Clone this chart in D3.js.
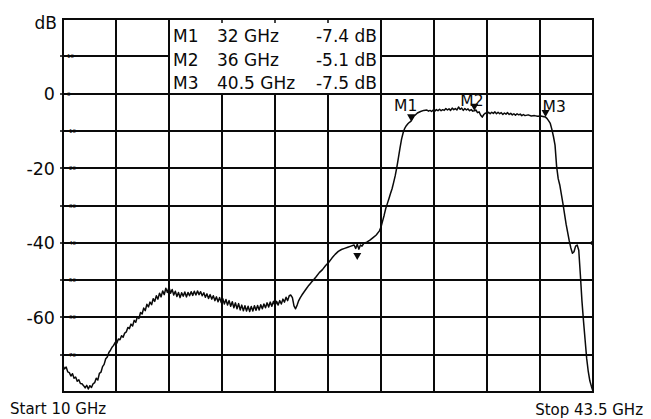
<!DOCTYPE html>
<html><head><meta charset="utf-8">
<script src="https://cdn.jsdelivr.net/npm/d3@7"></script>
<style>
body{margin:0;background:#fff}
svg{display:block}
text{font-family:"DejaVu Sans",Verdana,sans-serif;fill:#0a0a0a}
</style>
</head><body>
<svg id="c" width="651" height="419"></svg>
<script>
// ---------- data ----------
const xGridGHz = [10, 13.35, 16.7, 20.05, 23.4, 26.75, 30.1, 33.45, 36.8, 40.15, 43.5];
const yGridDb = [20, 10, 0, -10, -20, -30, -40, -50, -60, -70, -80];
const yLabelDb = [0, -20, -40, -60];
const yLabelText = ["0", "-20", "-40", "-60"];
const yUnit = "dB";
const innerTickDb = [10, 0, -10, -20, -30, -40, -50, -60, -70];
const innerTickText = ["10", "0", "-10", "-20", "-30", "-40", "-50", "-60", "-70"];

const traceGHz = [
10.0,10.1,10.2,10.3,10.4,10.5,10.6,10.7,10.8,10.9,
11.0,11.1,11.2,11.3,11.4,11.5,11.6,11.7,11.8,11.9,
12.0,12.1,12.2,12.3,12.4,12.5,12.6,12.7,12.8,12.9,
13.0,13.1,13.2,13.3,13.4,13.5,13.6,13.7,13.8,13.9,
14.0,14.1,14.2,14.3,14.4,14.5,14.6,14.7,14.8,14.9,
15.0,15.1,15.2,15.3,15.4,15.5,15.6,15.7,15.8,15.9,
16.0,16.1,16.2,16.3,16.4,16.5,16.6,16.7,16.8,16.9,
17.0,17.1,17.2,17.3,17.4,17.5,17.6,17.7,17.8,17.9,
18.0,18.1,18.2,18.3,18.4,18.5,18.6,18.7,18.8,18.9,
19.0,19.1,19.2,19.3,19.4,19.5,19.6,19.7,19.8,19.9,
20.0,20.1,20.2,20.3,20.4,20.5,20.6,20.7,20.8,20.9,
21.0,21.1,21.2,21.3,21.4,21.5,21.6,21.7,21.8,21.9,
22.0,22.1,22.2,22.3,22.4,22.5,22.6,22.7,22.8,22.9,
23.0,23.1,23.2,23.3,23.4,23.5,23.6,23.7,23.8,23.9,
24.0,24.1,24.2,24.3,24.4,24.5,24.6,24.7,24.8,24.9,
25.0,25.1,25.2,25.3,25.4,25.5,25.6,25.7,25.8,26.0,
26.2,26.4,26.6,26.8,27.0,27.2,27.4,27.6,27.8,28.0,
28.2,28.4,28.5,28.6,28.7,28.8,28.9,29.0,29.2,29.4,
29.6,29.8,30.0,30.1,30.2,30.3,30.4,30.5,30.6,30.7,
30.8,30.9,31.0,31.1,31.2,31.3,31.4,31.5,31.6,31.7,
31.8,31.9,32.0,32.2,32.4,32.6,32.8,33.0,33.1,33.2,
33.3,33.4,33.5,33.6,33.7,33.8,33.9,34.0,34.1,34.2,
34.3,34.4,34.5,34.6,34.7,34.8,34.9,35.0,35.1,35.2,
35.3,35.4,35.5,35.6,35.7,35.8,35.9,36.0,36.1,36.2,
36.3,36.4,36.5,36.6,36.7,36.8,36.9,37.0,37.1,37.2,
37.3,37.4,37.5,37.6,37.7,37.8,37.9,38.0,38.1,38.2,
38.3,38.4,38.5,38.6,38.7,38.8,38.9,39.0,39.1,39.2,
39.4,39.6,39.8,40.0,40.2,40.4,40.5,40.6,40.7,40.8,
40.9,41.0,41.1,41.2,41.3,41.4,41.6,41.8,42.0,42.1,
42.2,42.3,42.4,42.5,42.6,42.7,42.8,42.9,43.0,43.1,
43.2,43.3,43.4,43.5
];
const traceDb = [
-73.0,-73.8,-73.3,-74.6,-74.8,-75.7,-75.1,-76.3,-76.0,-77.1,
-76.7,-77.7,-77.8,-78.3,-78.9,-78.2,-79.2,-78.3,-78.8,-77.8,
-77.5,-76.3,-76.8,-75.0,-74.7,-73.2,-72.6,-71.1,-70.6,-69.4,
-68.8,-68.0,-67.5,-66.7,-66.9,-65.8,-66.0,-64.9,-65.3,-64.2,
-63.9,-62.7,-63.0,-61.8,-62.3,-60.8,-61.3,-59.8,-60.3,-58.7,
-59.1,-57.5,-58.2,-56.5,-57.2,-55.9,-56.6,-55.0,-55.7,-54.2,
-55.1,-53.5,-54.5,-52.9,-53.9,-52.2,-53.3,-51.9,-53.5,-52.5,
-54.0,-53.0,-54.4,-53.3,-54.7,-53.4,-54.3,-53.2,-54.5,-53.3,
-54.2,-53.1,-54.1,-53.0,-54.0,-52.9,-53.9,-53.1,-54.2,-53.4,
-54.6,-53.7,-54.9,-53.9,-55.1,-54.2,-55.5,-54.5,-55.8,-54.7,
-56.0,-55.0,-56.4,-55.2,-56.7,-55.5,-57.0,-55.8,-57.4,-56.1,
-57.7,-56.3,-58.0,-56.7,-58.2,-56.9,-58.3,-57.0,-58.4,-57.1,
-58.3,-56.9,-58.1,-56.8,-58.0,-56.6,-57.7,-56.4,-57.4,-56.1,
-57.2,-55.9,-57.0,-55.7,-56.9,-55.7,-56.7,-55.5,-56.4,-55.1,
-55.9,-54.6,-55.5,-54.2,-54.0,-54.7,-56.9,-57.7,-56.7,-55.5,
-54.7,-54.0,-53.4,-52.8,-52.2,-51.6,-51.1,-50.6,-50.1,-49.1,
-48.0,-47.2,-46.1,-45.2,-44.1,-43.1,-42.3,-41.8,-41.5,-41.2,
-40.9,-40.6,-41.5,-40.4,-41.7,-40.6,-40.9,-40.2,-39.8,-39.3,
-38.6,-37.9,-36.8,-35.8,-34.2,-32.6,-30.8,-29.5,-28.2,-26.8,
-25.5,-23.8,-22.0,-19.8,-17.2,-14.6,-12.2,-10.5,-9.3,-8.6,
-8.1,-7.7,-7.4,-6.0,-5.2,-4.8,-4.5,-4.4,-4.7,-4.5,
-4.8,-4.4,-4.7,-4.3,-4.6,-4.2,-4.6,-4.3,-4.5,-4.0,
-4.4,-4.1,-4.5,-3.9,-4.3,-4.0,-4.4,-3.6,-4.2,-3.9,
-4.5,-4.0,-4.4,-4.1,-4.6,-4.3,-4.7,-4.6,-4.4,-5.1,
-4.9,-5.8,-6.3,-5.6,-5.2,-5.5,-5.0,-5.4,-5.0,-5.3,
-4.9,-5.4,-5.0,-5.4,-5.1,-5.6,-5.2,-5.5,-5.1,-5.6,
-5.3,-5.7,-5.4,-5.8,-5.4,-5.7,-5.5,-5.9,-5.6,-5.9,
-5.7,-6.0,-5.9,-6.1,-6.0,-6.2,-6.3,-6.7,-7.3,-8.0,
-9.6,-11.5,-13.8,-19.5,-22.8,-24.5,-29.5,-35.0,-39.5,-41.4,
-42.8,-42.4,-40.9,-40.6,-42.0,-48.5,-55.5,-61.0,-66.0,-71.0,
-74.5,-77.0,-78.5,-79.8
];

const markerNames = ["M1", "M2", "M3"];
const markerGHz = [32, 36, 40.5];
const markerFreqText = ["32 GHz", "36 GHz", "40.5 GHz"];
const markerDbText = ["-7.4 dB", "-5.1 dB", "-7.5 dB"];
const auxMarkerGHz = [28.6];
const auxMarkerDb = [-44.6];
const refLevelDb = -40;
const startText = "Start 10 GHz";
const stopText = "Stop 43.5 GHz";

// ---------- drawing ----------
const svg = d3.select("#c");
const x = d3.scaleLinear().domain([10, 43.5]).range([63, 593]);
const y = d3.scaleLinear().domain([-80, 20]).range([392, 19]);
const ink = "#0a0a0a";
const gx = d => Math.round(x(d));
const gy = d => Math.round(y(d));

const grid = svg.append("g").attr("stroke", ink).attr("stroke-width", 2)
  .attr("shape-rendering", "crispEdges");
grid.selectAll("line.v").data(xGridGHz).join("line")
  .attr("x1", gx).attr("x2", gx)
  .attr("y1", gy(20) - 1).attr("y2", gy(-80) + 1);
grid.selectAll("line.h").data(yGridDb).join("line")
  .attr("x1", gx(10) - 1).attr("x2", gx(43.5) + 1)
  .attr("y1", gy).attr("y2", gy);

// small outer tick stubs on the left
svg.append("g").attr("stroke", ink).attr("stroke-width", 1.5)
  .selectAll("line").data(innerTickDb).join("line")
  .attr("x1", gx(10) - 3).attr("x2", gx(10))
  .attr("y1", gy).attr("y2", gy);

// tiny inner tick labels
svg.append("g").selectAll("text").data(innerTickDb).join("text")
  .attr("x", gx(10) + 4).attr("y", gy).attr("dy", "0.35em")
  .attr("font-size", 5.5).text((d, i) => innerTickText[i]);

// marker table (white box between grid lines)
const tx0 = gx(16.7), tx1 = gx(30.1), ty0 = gy(20), ty1 = gy(0);
svg.append("rect").attr("x", tx0 + 1).attr("y", ty0 + 1)
  .attr("width", tx1 - tx0 - 2).attr("height", ty1 - ty0 - 2).attr("fill", "#fff");
svg.append("g").attr("stroke", ink).attr("stroke-width", 1.5)
  .selectAll("line").data(xGridGHz.filter(d => x(d) > tx0 + 2 && x(d) < tx1 - 2)).join("line")
  .attr("x1", gx).attr("x2", gx)
  .attr("y1", ty0).attr("y2", ty0 + 4);
const rowY = [42, 65.5, 89];
const table = svg.append("g").attr("font-size", 17);
markerNames.forEach((m, i) => {
  table.append("text").attr("x", tx0 + 4).attr("y", rowY[i]).text(m);
  table.append("text").attr("x", tx0 + 48).attr("y", rowY[i]).text(markerFreqText[i]);
  table.append("text").attr("x", tx1 - 4).attr("y", rowY[i]).attr("text-anchor", "end").text(markerDbText[i]);
});

// trace
const pts = traceGHz.map((f, i) => [f, traceDb[i]]);
const line = d3.line().x(d => x(d[0])).y(d => y(d[1]));
svg.append("path").datum(pts).attr("d", line)
  .attr("fill", "none").attr("stroke", ink).attr("stroke-width", 1.5)
  .attr("stroke-linejoin", "round");

// markers on the trace
const bis = d3.bisector(d => d[0]).left;
function traceAt(f) {
  const i = Math.max(1, bis(pts, f));
  const a = pts[i - 1], b = pts[i];
  const t = (f - a[0]) / (b[0] - a[0]);
  return a[1] + t * (b[1] - a[1]);
}
const tri = (cx, cy) => `M${cx - 4},${cy - 7}L${cx + 4},${cy - 7}L${cx},${cy}Z`;
const labelDx = [-17, -14, -3];
const labelDy = [-10, -5, -5];
markerGHz.forEach((f, i) => {
  const cx = x(f), cy = y(traceAt(f));
  svg.append("path").attr("d", tri(cx, cy)).attr("fill", ink);
  svg.append("text").attr("x", cx + labelDx[i]).attr("y", cy + labelDy[i])
    .attr("font-size", 15.5).text(markerNames[i]);
});
auxMarkerGHz.forEach((f, i) => {
  svg.append("path").attr("d", tri(x(f), y(auxMarkerDb[i]))).attr("fill", ink);
});

// reference level arrow at right edge
const ry = gy(refLevelDb), rx = gx(43.5);
svg.append("path").attr("d", `M${rx - 4},${ry}L${rx + 1},${ry - 3.5}L${rx + 1},${ry + 3.5}Z`).attr("fill", ink);

// axis labels
svg.append("text").attr("x", 57).attr("y", 29).attr("text-anchor", "end")
  .attr("font-size", 17).text(yUnit);
svg.append("g").selectAll("text").data(yLabelDb).join("text")
  .attr("x", 55).attr("y", d => y(d)).attr("dy", "0.36em")
  .attr("text-anchor", "end").attr("font-size", 17.5)
  .text((d, i) => yLabelText[i]);

svg.append("text").attr("x", 10).attr("y", 414).attr("font-size", 15).text(startText);
svg.append("text").attr("x", 643).attr("y", 415).attr("text-anchor", "end").attr("font-size", 15).text(stopText);
</script>
</body></html>
